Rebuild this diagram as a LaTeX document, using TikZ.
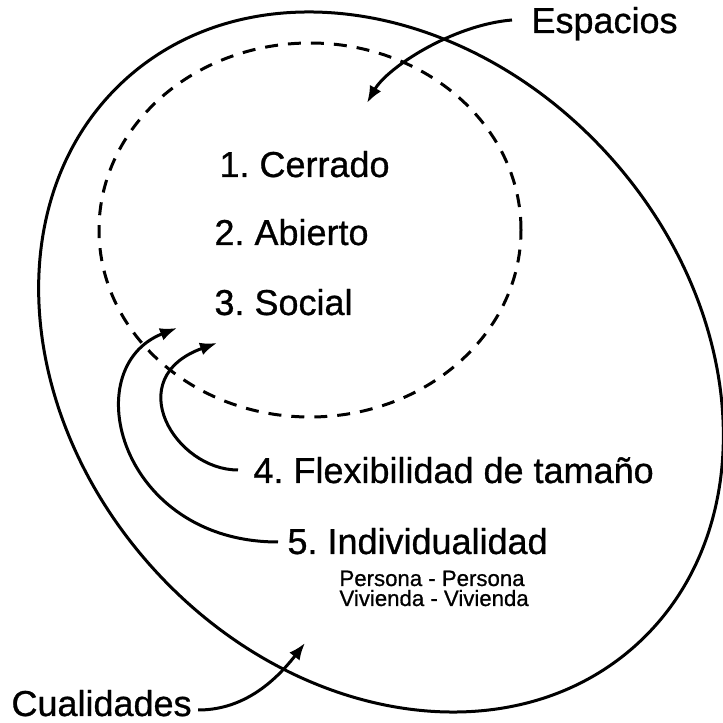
\documentclass[tikz,border=0pt]{standalone}
\usepackage{fontspec}
\setmainfont[FakeBold=0.8]{Liberation Sans}
\usetikzlibrary{arrows.meta}
\frenchspacing

\begin{document}
\begin{tikzpicture}[x=1pt, y=1pt, line width=3pt,
	every node/.style={font=\fontsize{36}{40}\selectfont, inner sep=0pt},
	small/.style={font=\fontsize{22.2}{26}\selectfont},
	arr/.style={-{Latex[length=17pt,width=13pt]}}]
	\useasboundingbox (0,0) rectangle (723,723);

	% the two regions
	\draw (381,361) ellipse [x radius=381, y radius=307.5, rotate=-48]; %cualidades
	\draw [dash pattern=on 13pt off 10pt] (310,493) ellipse [x radius=211, y radius=187]; %espacios

	% texts
	\node (espacios) [anchor=base west] at (530,690) {Espacios};
	\node (cerrado) [anchor=base west] at (218,546) {1. Cerrado};
	\node (abierto) [anchor=base west] at (213,478) {2. Abierto};
	\node (social) [anchor=base west] at (213,408) {3. Social};
	\node (flex) [anchor=base west] at (252,240) {4. Flexibilidad de tama\~no};
	\node (indiv) [anchor=base west] at (286,169) {5. Individualidad};
	\node (persona) [small, anchor=base west] at (338,137) {Persona - Persona};
	\node (vivienda) [small, anchor=base west] at (338,117) {Vivienda - Vivienda};
	\node (cualidades) [anchor=base west] at (10,7) {Cualidades};

	% arrow ends
	\coordinate (esptip) at (367,620);
	\coordinate (cualtip) at (305,80);
	\coordinate (flextip) at (217,380);
	\coordinate (indivtip) at (177,395);

	\draw [arr] ([shift={(-18,13)}]espacios.base west) .. controls +(-60,-5) and +(20,35) .. (esptip);
	\draw [arr] ([shift={(5,6)}]cualidades.base east) .. controls +(40,0) and +(-35,-45) .. (cualtip);
	\draw [arr] ([shift={(-14,13)}]flex.base west) .. controls +(-63,0) and +(-97,-35) .. (flextip);
	\draw [arr] ([shift={(-8,12)}]indiv.base west) .. controls +(-158,0) and +(-102,-40) .. (indivtip);
\end{tikzpicture}
\end{document}
